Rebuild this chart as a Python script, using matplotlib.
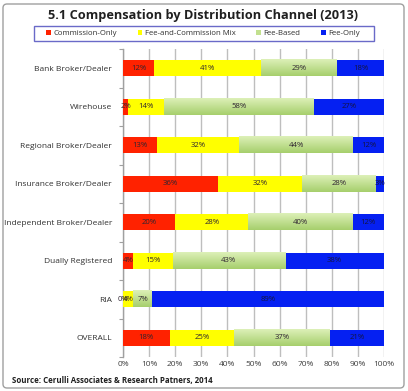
import matplotlib
matplotlib.use("Agg")
import matplotlib.pyplot as plt
from matplotlib.patches import FancyBboxPatch, Rectangle
from matplotlib.colors import LinearSegmentedColormap
import numpy as np

categories = ["Bank Broker/Dealer", "Wirehouse", "Regional Broker/Dealer",
              "Insurance Broker/Dealer", "Independent Broker/Dealer",
              "Dually Registered", "RIA", "OVERALL"]
series_names = ["Commission-Only", "Fee-and-Commission Mix", "Fee-Based", "Fee-Only"]
commission_only = [12, 2, 13, 36, 20, 4, 0, 18]
fee_and_commission = [41, 14, 32, 32, 28, 15, 4, 25]
fee_based = [29, 58, 44, 28, 40, 43, 7, 37]
fee_only = [18, 27, 12, 3, 12, 38, 89, 21]
xtick_labels = ["0%", "10%", "20%", "30%", "40%", "50%", "60%", "70%", "80%", "90%", "100%"]

colors = ["#FF2200", "#FFFF00", "#C2E08F", "#0520F2"]
green_cmap = LinearSegmentedColormap.from_list("g", ["#DDF0B8", "#A6CF6C"])

plt.rcParams['font.family'] = ['Open Sans', 'DejaVu Sans']

fig = plt.figure(figsize=(4.08, 3.91), dpi=100)
W, H = 408, 391

fig.patches.append(FancyBboxPatch((3/W, 3/H), 401/W, 384/H,
                                  boxstyle="round,pad=0,rounding_size=0.01",
                                  transform=fig.transFigure, facecolor="none",
                                  edgecolor="#A0A0A0", linewidth=1.0, zorder=-10))

ax = fig.add_axes([123/W, 1 - 357/H, 261/W, 308/H])

data = np.array([commission_only, fee_and_commission, fee_based, fee_only], dtype=float)
totals = data.sum(axis=0)
pct = data / totals * 100

n = len(categories)
y = np.arange(n)
bh = 0.42
left = np.zeros(n)
handles = []
grad = np.linspace(0, 1, 64).reshape(-1, 1)
for i, (name, vals, raw) in enumerate(zip(series_names, pct, data)):
    b = ax.barh(y, vals, left=left, height=bh, color=colors[i], label=name, zorder=3)
    handles.append(b)
    if i == 2:
        for j, rect in enumerate(b.patches):
            x0, w = left[j], vals[j]
            im = ax.imshow(grad, cmap=green_cmap, aspect="auto", zorder=3.5,
                           extent=(x0, x0 + w, y[j] + bh / 2, y[j] - bh / 2),
                           origin="upper", interpolation="bilinear")
    for j in range(n):
        cx = left[j] + vals[j] / 2
        ax.text(cx, y[j], f"{int(raw[j])}%", ha="center", va="center",
                fontsize=5.6, color="#2E2430" if i != 3 else "#141440", zorder=4)
    left += vals

ax.set_xlim(0, 100)
ax.set_ylim(n - 0.5, -0.5)
ax.set_aspect("auto")
ax.set_xticks(np.arange(0, 101, 10))
ax.set_xticklabels(xtick_labels, fontsize=6, color="#404040")
ax.set_yticks(y)
ax.set_yticklabels(categories, fontsize=6, color="#303030")
ax.tick_params(axis="y", length=0, pad=8)
ax.tick_params(axis="x", length=0, pad=3)
ax.set_yticks(np.arange(-0.5, n, 1), minor=True)
ax.tick_params(axis="y", which="minor", length=3, color="#A0A0A0", width=0.8)
ax.grid(axis="x", color="#BEBEBE", linewidth=1.0, zorder=0)
for s in ["top", "right", "bottom"]:
    ax.spines[s].set_visible(False)
ax.spines["left"].set_color("#A0A0A0")
ax.spines["left"].set_linewidth(1.0)

fig.text(203/W, 1 - 15/H, "5.1 Compensation by Distribution Channel (2013)",
         ha="center", va="center", fontsize=9.2, fontweight="bold", color="#202020")

fig.patches.append(Rectangle((34/W, 1 - 41/H), 340/W, 15/H, transform=fig.transFigure,
                             facecolor="none", edgecolor="#6A6AC8", linewidth=1.0))
leg = fig.legend(handles=handles, labels=series_names, loc="center",
                 bbox_to_anchor=(203/W, 1 - 33.5/H), ncol=4,
                 fontsize=5.6, frameon=False, handlelength=0.6,
                 handleheight=0.6, handletextpad=0.3, columnspacing=2.7,
                 borderpad=0.2, labelcolor="#303030")

fig.text(12/W, 1 - 381/H, "Source: Cerulli Associates & Research Patners, 2014",
         ha="left", va="center", fontsize=5.7, fontweight="bold", color="#202020")

fig.savefig("out.png", dpi=100)
